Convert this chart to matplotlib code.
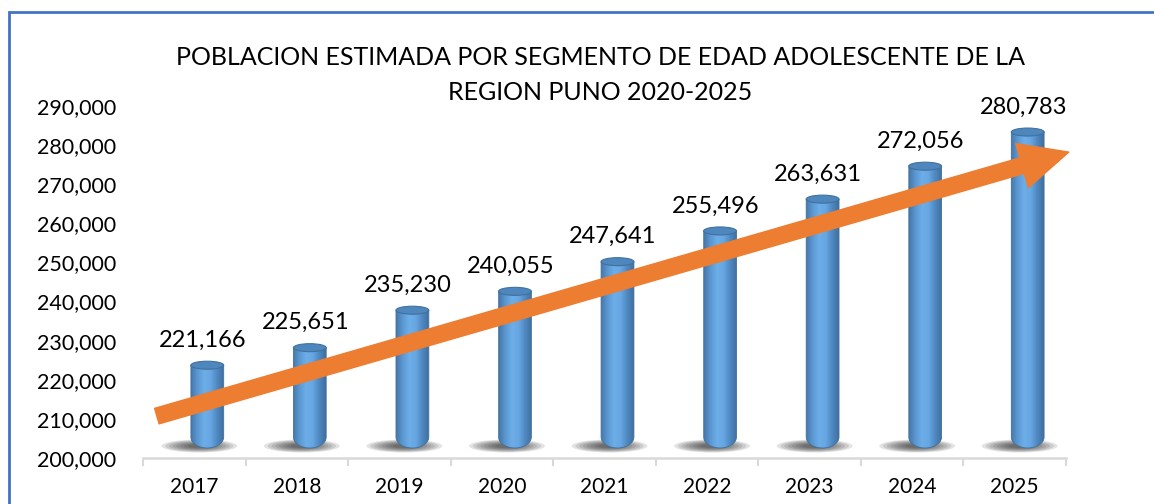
import numpy as np
import matplotlib
matplotlib.use('Agg')
import matplotlib.pyplot as plt
from matplotlib.path import Path
from matplotlib.patches import PathPatch, Ellipse, Rectangle
from matplotlib.transforms import ScaledTranslation
from matplotlib.colors import LinearSegmentedColormap
from matplotlib.ticker import FuncFormatter

years = ['2017', '2018', '2019', '2020', '2021', '2022', '2023', '2024', '2025']
poblacion = [221166, 225651, 235230, 240055, 247641, 255496, 263631, 272056, 280783]
title = 'POBLACION ESTIMADA POR SEGMENTO DE EDAD ADOLESCENTE DE LA\nREGION PUNO 2020-2025'

FONT = ['Lato', 'DejaVu Sans']
plt.rcParams['font.family'] = FONT

fig = plt.figure(figsize=(11.54, 5.04), dpi=100)
ax = fig.add_axes([143/1154, 1-458/504, 923/1154, 352/504])

base = 200000
ax.set_xlim(-0.5, 8.5)
ax.set_ylim(base, 290000)

# pixel -> data scale
px_y = 90000 / 352.0
w = 0.32
rb = 11 * px_y      # rounded bottom
rt = 4 * px_y       # half height of top cap

# 3d offset of the cylinders
off = ax.transData + ScaledTranslation(13/100, 10/100, fig.dpi_scale_trans)
shoff = ax.transData + ScaledTranslation(5/100, 12/100, fig.dpi_scale_trans)

cmap = LinearSegmentedColormap.from_list('cyl', ['#4677AA', '#5B98D2', '#6DAEE8', '#66A6E2', '#4F88C0', '#3F6F9F'])
grad = np.linspace(0, 1, 256).reshape(1, -1)

for i, v in enumerate(poblacion):
    # floor shadow
    for k in range(8):
        s = 1 - k * 0.1
        ax.add_patch(Ellipse((i, base), 0.74 * s, 13 * px_y * s, facecolor='#202020',
                             alpha=0.12, edgecolor='none', transform=shoff, zorder=1))
    x0, x1 = i - w/2, i + w/2
    t = np.linspace(np.pi, 2*np.pi, 30)
    bx = i + w/2 * np.cos(t)
    by = base + rb + rb * np.sin(t)
    verts = [(x0, v)] + list(zip(bx, by)) + [(x1, v), (x0, v)]
    codes = [Path.MOVETO] + [Path.LINETO] * (len(verts) - 2) + [Path.CLOSEPOLY]
    body = PathPatch(Path(verts, codes), facecolor='none', edgecolor='#41719C',
                     lw=0.6, transform=off, zorder=3)
    ax.add_patch(body)
    im = ax.imshow(grad, cmap=cmap, extent=[x0, x1, base, v], aspect='auto',
                   transform=off, zorder=2, interpolation='bilinear')
    im.set_clip_path(body)
    ax.add_patch(Ellipse((i, v), w, 2 * rt, facecolor='#4E86BE', edgecolor='#41719C',
                         lw=0.8, transform=off, zorder=4))
    ax.annotate(f'{v:,}', xy=(i, v), xytext=(8.5, 35), textcoords='offset pixels',
                ha='center', va='center', fontsize=17, color='black', zorder=6,
                annotation_clip=False)

ax.set_xlim(-0.5, 8.5)
ax.set_ylim(base, 290000)

# trend arrow
ax.annotate('', xy=(1.003, 0.869), xytext=(0.015, 0.119), xycoords='axes fraction',
            arrowprops=dict(arrowstyle='simple,head_length=1.75,head_width=1.65,tail_width=0.58',
                            mutation_scale=20, color='#ED7D31', shrinkA=0, shrinkB=0),
            zorder=5, annotation_clip=False)

ax.set_yticks(np.arange(200000, 290001, 10000))
ax.yaxis.set_major_formatter(FuncFormatter(lambda y, p: f'{int(y):,}'))
ax.tick_params(axis='y', length=0, pad=19, labelsize=15.5)
ax.set_xticks(range(len(years)))
ax.set_xticklabels(years)
ax.set_xticks(np.arange(-0.5, 9, 1), minor=True)
ax.tick_params(axis='x', which='major', length=0, pad=14, labelsize=15)
ax.tick_params(axis='x', which='minor', length=6, width=1.5, color='#D9D9D9', direction='out')
for s in ['top', 'right', 'left']:
    ax.spines[s].set_visible(False)
ax.spines['bottom'].set_color('#D9D9D9')
ax.spines['bottom'].set_linewidth(1.8)
ax.set_facecolor('none')

fig.text(600/1154, 1 - 75/504, title, ha='center', va='center', fontsize=18,
         linespacing=1.6)

# chart frame
fig.add_artist(Rectangle((9/1154, -0.2), 2, 1.2 - 12/504, transform=fig.transFigure,
                         fill=False, edgecolor='#4472C4', lw=2, clip_on=False))

plt.savefig('out.png', dpi=100)
